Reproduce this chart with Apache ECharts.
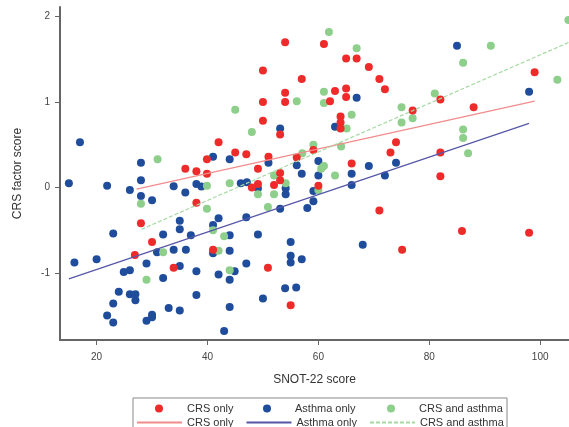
<!DOCTYPE html>
<html>
<head>
<meta charset="utf-8">
<script src="https://cdn.jsdelivr.net/npm/echarts@6/dist/echarts.min.js"></script>
<style>
  html, body { margin: 0; padding: 0; background: #fff; }
  #chart { width: 569px; height: 427px; }
</style>
</head>
<body>
<div id="chart"></div>
<script>
// SNOT-22 score vs CRS factor score, three patient groups
const xTicks = [20, 40, 60, 80, 100];
const yTicks = [-1, 0, 1, 2];

const crsOnly = [
  [54.0, 1.70], [61.0, 1.68], [65.0, 1.51], [66.9, 1.51], [69.1, 1.41], [50.0, 1.37],
  [57.0, 1.27], [71.0, 1.27], [72.0, 1.15], [54.0, 1.11], [63.0, 1.13], [65.0, 1.16],
  [65.0, 1.06], [62.1, 1.01], [50.0, 1.00], [54.0, 1.00], [99.0, 1.35], [82.0, 1.03],
  [88.0, 0.94], [77.0, 0.90], [50.0, 0.78], [64.0, 0.83], [64.0, 0.76], [64.0, 0.69],
  [53.1, 0.62], [74.0, 0.53], [42.0, 0.53], [73.0, 0.41], [82.0, 0.41], [59.1, 0.44],
  [45.0, 0.41], [47.0, 0.39], [51.0, 0.36], [56.1, 0.35], [39.9, 0.33], [66.0, 0.28],
  [49.1, 0.22], [36.0, 0.22], [38.0, 0.19], [39.9, 0.16], [53.1, 0.17], [82.0, 0.13],
  [53.1, 0.085], [52.0, 0.03], [49.1, 0.04], [48.0, 0.00], [60.0, 0.02], [38.0, -0.18],
  [71.0, -0.27], [28.0, -0.42], [85.9, -0.51], [98.0, -0.53], [30.0, -0.64], [41.0, -0.73],
  [75.1, -0.73], [26.9, -0.79], [33.9, -0.94], [50.9, -0.94], [55.0, -1.38]
];

const asthmaOnly = [
  [15.0, 0.05], [17.0, 0.53], [21.9, 0.02], [26.0, -0.03], [28.0, 0.29], [28.0, 0.085],
  [28.0, -0.10], [30.0, -0.15], [33.9, 0.015], [36.0, -0.06], [38.0, 0.04], [38.9, 0.01],
  [41.0, 0.36], [44.0, 0.33], [46.0, 0.05], [47.1, 0.06], [49.1, -0.01], [51.0, 0.29],
  [53.1, 0.69], [54.1, -0.01], [54.1, -0.08], [56.1, 0.26], [57.0, 0.16], [60.0, 0.31],
  [60.0, 0.14], [59.1, -0.04], [59.1, -0.16], [63.0, 0.71], [66.9, 1.05], [66.0, 0.16],
  [66.0, 0.03], [69.1, 0.25], [72.0, 0.14], [74.0, 0.29], [85.0, 1.66], [98.0, 1.12],
  [53.1, -0.25], [58.0, -0.24], [47.0, -0.35], [44.0, -0.56], [49.1, -0.55], [55.0, -0.64],
  [44.0, -0.74], [55.0, -0.80], [55.0, -0.88], [57.0, -0.84], [47.0, -0.89], [44.9, -0.98],
  [44.0, -1.08], [54.0, -1.18], [56.0, -1.17], [50.0, -1.30], [44.0, -1.40], [68.0, -0.67],
  [42.0, -0.36], [41.0, -0.44], [35.0, -0.39], [35.0, -0.49], [23.0, -0.54], [32.0, -0.55],
  [37.0, -0.56], [30.9, -0.76], [33.9, -0.73], [36.1, -0.73], [41.0, -0.77], [16.0, -0.88],
  [20.0, -0.84], [29.0, -0.89], [35.0, -0.92], [24.9, -0.99], [26.0, -0.97], [38.0, -0.98],
  [42.0, -1.02], [32.0, -1.06], [24.0, -1.22], [26.0, -1.25], [27.0, -1.25], [27.0, -1.32],
  [38.0, -1.26], [23.0, -1.36], [33.0, -1.41], [35.0, -1.44], [21.9, -1.50], [23.0, -1.58],
  [30.0, -1.49], [30.0, -1.52], [29.0, -1.56], [43.0, -1.68]
];

const crsAsthma = [
  [61.9, 1.82], [66.9, 1.63], [105.1, 1.96], [91.1, 1.66], [86.1, 1.46], [103.1, 1.26],
  [81.0, 1.10], [56.1, 1.01], [61.0, 1.12], [61.0, 0.99], [45.0, 0.91], [75.0, 0.94],
  [66.0, 0.85], [77.0, 0.81], [75.0, 0.76], [48.0, 0.65], [65.1, 0.69], [86.1, 0.68],
  [86.1, 0.58], [59.1, 0.50], [64.1, 0.48], [87.0, 0.40], [57.1, 0.40], [31.0, 0.33],
  [61.0, 0.25], [60.5, 0.22], [52.0, 0.14], [63.0, 0.14], [54.1, 0.05], [44.0, 0.05],
  [39.9, 0.02], [49.1, -0.08], [52.0, -0.08], [60.0, -0.03], [28.0, -0.19], [39.9, -0.25],
  [50.9, -0.23], [41.0, -0.50], [43.0, -0.57], [32.0, -0.76], [42.0, -0.74], [44.0, -0.97],
  [29.0, -1.08]
];

// linear fit lines, end points
const crsFit = [[27.2, -0.02], [99.0, 1.01]];
const asthmaFit = [[15.0, -1.07], [98.0, 0.75]];
const bothFit = [[28.1, -0.49], [105.2, 1.70]];

const groupNames = ['CRS only', 'Asthma only', 'CRS and asthma'];

const RED = '#ee2b2b', BLUE = '#1f4d9c', GREEN = '#8dcf8b';
const FONT = 'Liberation Sans, Arial, sans-serif';

const chart = echarts.init(document.getElementById('chart'));

const legendText = { fontSize: 11, color: '#333', fontFamily: FONT };

// top legend row: one small legend per dot, so each sits where the figure has it
const dotLefts = [155, 263, 387];
const dotLegends = groupNames.map((name, i) => ({
  data: [{ name: name, icon: 'circle' }],
  left: dotLefts[i], top: 403, padding: 0,
  itemWidth: 8, itemHeight: 8,
  textStyle: Object.assign({ padding: [0, 0, 0, 19] }, legendText)
}));

chart.setOption({
  animation: false,
  grid: { left: 60, right: 0, top: 7, bottom: 87 },
  xAxis: {
    type: 'value',
    min: 13.4,
    max: 105.2,
    name: 'SNOT-22 score',
    nameLocation: 'middle',
    nameGap: 34,
    nameTextStyle: { fontSize: 12, color: '#333', fontFamily: FONT },
    axisLine: { onZero: false, lineStyle: { color: '#666', width: 2 } },
    axisTick: { customValues: xTicks, length: 5, lineStyle: { color: '#666' } },
    axisLabel: { customValues: xTicks, fontSize: 10, color: '#444', margin: 12 },
    splitLine: { show: false }
  },
  yAxis: {
    type: 'value',
    min: -1.786,
    max: 2.113,
    name: 'CRS factor score',
    nameLocation: 'middle',
    nameGap: 36,
    nameTextStyle: { fontSize: 12, color: '#333', fontFamily: FONT },
    axisLine: { show: true, onZero: false, lineStyle: { color: '#666', width: 2 } },
    axisTick: { show: true, customValues: yTicks, length: 5, lineStyle: { color: '#666' } },
    axisLabel: { customValues: yTicks, fontSize: 10, color: '#444', margin: 10 },
    splitLine: { show: false }
  },
  legend: dotLegends.concat([{
    data: groupNames.map(n => n + ' fit'),
    formatter: (name) => name.replace(' fit', ''),
    left: 136, top: 417, padding: 0,
    itemWidth: 45, itemHeight: 8, itemGap: 12,
    itemStyle: { opacity: 0 },
    textStyle: legendText
  }]),
  graphic: [{
    type: 'rect',
    shape: { x: 133, y: 398, width: 374, height: 34 },
    style: { fill: 'none', stroke: '#888', lineWidth: 1 }
  }],
  series: [
    { name: 'Asthma only', type: 'scatter', data: asthmaOnly, symbolSize: 8, itemStyle: { color: BLUE, opacity: 1 } },
    { name: 'CRS and asthma', type: 'scatter', data: crsAsthma, symbolSize: 8, itemStyle: { color: GREEN, opacity: 1 } },
    { name: 'CRS only', type: 'scatter', data: crsOnly, symbolSize: 8, itemStyle: { color: RED, opacity: 1 } },
    { name: 'CRS only fit', type: 'line', data: crsFit, symbol: 'none', lineStyle: { color: '#f28c8c', width: 1.2 }, itemStyle: { color: 'rgba(0,0,0,0)' } },
    { name: 'Asthma only fit', type: 'line', data: asthmaFit, symbol: 'none', lineStyle: { color: '#5656a8', width: 1.2 }, itemStyle: { color: 'rgba(0,0,0,0)' } },
    { name: 'CRS and asthma fit', type: 'line', data: bothFit, symbol: 'none', lineStyle: { color: '#a6d9a2', width: 1.2, type: [4, 2] }, itemStyle: { color: 'rgba(0,0,0,0)' } }
  ]
});
</script>
</body>
</html>
